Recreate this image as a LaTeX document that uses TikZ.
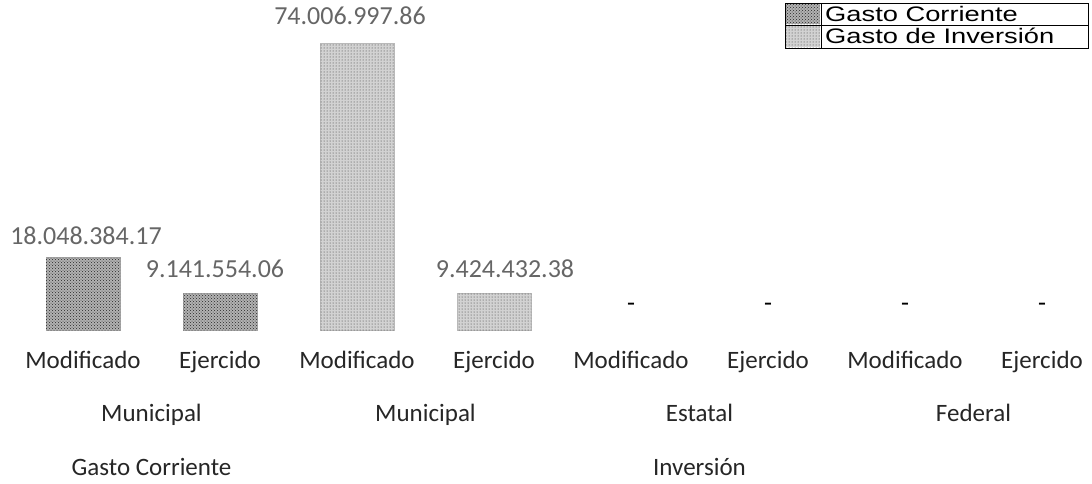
\documentclass[tikz,border=0pt]{standalone}
\usepackage{fontspec}
\newfontfamily\calfont{Carlito}
\newfontfamily\arialfont[FakeStretch=1.3]{Liberation Sans}
\usetikzlibrary{patterns}
\tikzset{
  corriente/.style={fill=gray!60, draw=gray!70, postaction={pattern=crosshatch dots, pattern color=gray!30!black}},
  inversion/.style={fill=gray!35, draw=gray!55, postaction={pattern=dots, pattern color=gray!40!black}},
  valor/.style={font=\calfont\fontsize{26}{28}\selectfont, text=black!60, inner sep=0pt, anchor=base},
  cat/.style={font=\calfont\fontsize{25}{28}\selectfont, text=black!85, inner sep=0pt, anchor=base},
  leyenda/.style={font=\arialfont\fontsize{21}{22}\selectfont, anchor=base west, inner sep=0pt}
}

\begin{document}
\begin{tikzpicture}[x=1pt,y=-1pt]
\useasboundingbox (0,0) rectangle (1092,483);

% Draw bars.
\draw[corriente] (46,257) rectangle (120,330);
\draw[corriente] (183,293) rectangle (257,330);
\draw[inversion] (320,43) rectangle (394,330);
\draw[inversion] (457,293) rectangle (531,330);

% Value labels.
\node[valor] (v1) at (86,244) {18.048.384.17};
\node[valor] (v2) at (215,277) {9.141.554.06};
\node[valor] (v3) at (350,24) {74.006.997.86};
\node[valor] (v4) at (505,277) {9.424.432.38};

% Empty values.
\foreach \x [count=\i] in {631,768,905,1042}
  \node[valor, text=black] (d\i) at (\x,311) {-};

% Axis labels, first row.
\foreach \x/\t [count=\i] in {83/Modificado, 220/Ejercido, 357/Modificado, 494/Ejercido,
    631/Modificado, 768/Ejercido, 905/Modificado, 1042/Ejercido}
  \node[cat] (c\i) at (\x,368) {\t};

% Axis labels, second row.
\node[cat] (m1) at (151.5,421) {Municipal};
\node[cat] (m2) at (425.5,421) {Municipal};
\node[cat] (es) at (699.5,421) {Estatal};
\node[cat] (fe) at (973.5,421) {Federal};

% Axis labels, third row.
\node[cat] (gc) at (151.5,475) {Gasto Corriente};
\node[cat] (in) at (699.5,475) {Inversión};

% Legend.
\draw[thick] (785,3) rectangle (1088,48);
\draw[thick] (785,25) -- (1088,25);
\draw[thick] (821,3) -- (821,48);
\fill[corriente, draw=none] (786,4) rectangle (820,24);
\fill[inversion, draw=none] (786,26) rectangle (820,47);
\node[leyenda] (l1) at (825,21) {Gasto Corriente};
\node[leyenda] (l2) at (825,43.5) {Gasto de Inversión};
\end{tikzpicture}
\end{document}
